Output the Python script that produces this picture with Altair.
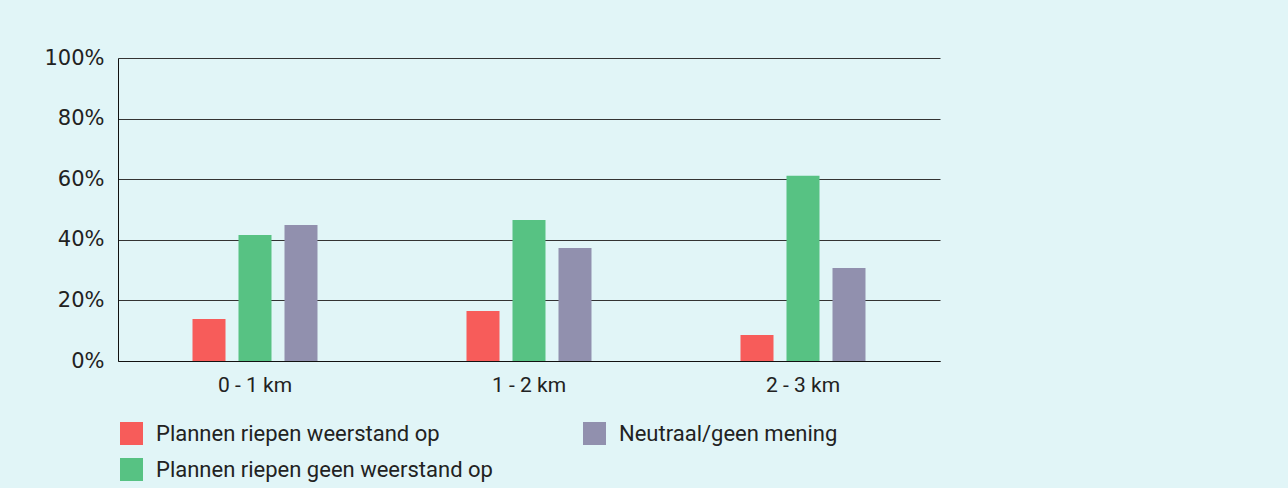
import altair as alt
import pandas as pd

categories = ["0 - 1 km", "1 - 2 km", "2 - 3 km"]
series = ["Plannen riepen weerstand op", "Plannen riepen geen weerstand op", "Neutraal/geen mening"]
weerstand = [0.139, 0.165, 0.086]
geen_weerstand = [0.416, 0.465, 0.611]
neutraal = [0.449, 0.373, 0.307]
colors = ["#f75c5a", "#57c283", "#9190ae"]

rows = []
for i, c in enumerate(categories):
    for s, vals in zip(series, [weerstand, geen_weerstand, neutraal]):
        rows.append({"afstand": c, "reeks": s, "waarde": vals[i]})
df = pd.DataFrame(rows)

legend_order = [series[0], series[2], series[1]]
legend_colors = [colors[0], colors[2], colors[1]]

chart = alt.Chart(df).mark_bar().encode(
    x=alt.X("afstand:N", sort=categories, title=None,
            scale=alt.Scale(paddingInner=0.5438, paddingOuter=0.2719),
            axis=alt.Axis(labelAngle=0, labelFont="Roboto", labelFontSize=21,
                          labelColor="#222222", labelPadding=13, ticks=False,
                          domainColor="#111111", grid=False)),
    xOffset=alt.XOffset("reeks:N", sort=series,
                        scale=alt.Scale(paddingInner=0.2826, paddingOuter=0)),
    y=alt.Y("waarde:Q", title=None,
            scale=alt.Scale(domain=[0, 1]),
            axis=alt.Axis(format=".0%", values=[0, 0.2, 0.4, 0.6, 0.8, 1.0],
                          labelFont="DejaVu Sans", labelFontSize=21,
                          labelColor="#222222", labelPadding=14, ticks=False,
                          domainColor="#111111", grid=True, gridColor="#333333",
                          gridWidth=1)),
    color=alt.Color("reeks:N", scale=alt.Scale(domain=legend_order, range=legend_colors),
                    legend=alt.Legend(title=None, orient="none", legendX=2, legendY=364,
                                      columns=2, direction="horizontal",
                                      symbolType="square", symbolSize=529,
                                      symbolStrokeWidth=0, symbolOpacity=1,
                                      labelFont="Roboto", labelFontSize=22,
                                      labelColor="#222222", labelOffset=13,
                                      rowPadding=13, columnPadding=90,
                                      labelLimit=500)),
).properties(
    width=822, height=303,
    padding={"left": 118, "top": 58, "right": 348, "bottom": 127},
    autosize=alt.AutoSizeParams(type="none"),
    background="#e1f5f7",
).configure_view(stroke=None)

chart.save("out.html", embed_options={"renderer": "svg", "actions": False})
